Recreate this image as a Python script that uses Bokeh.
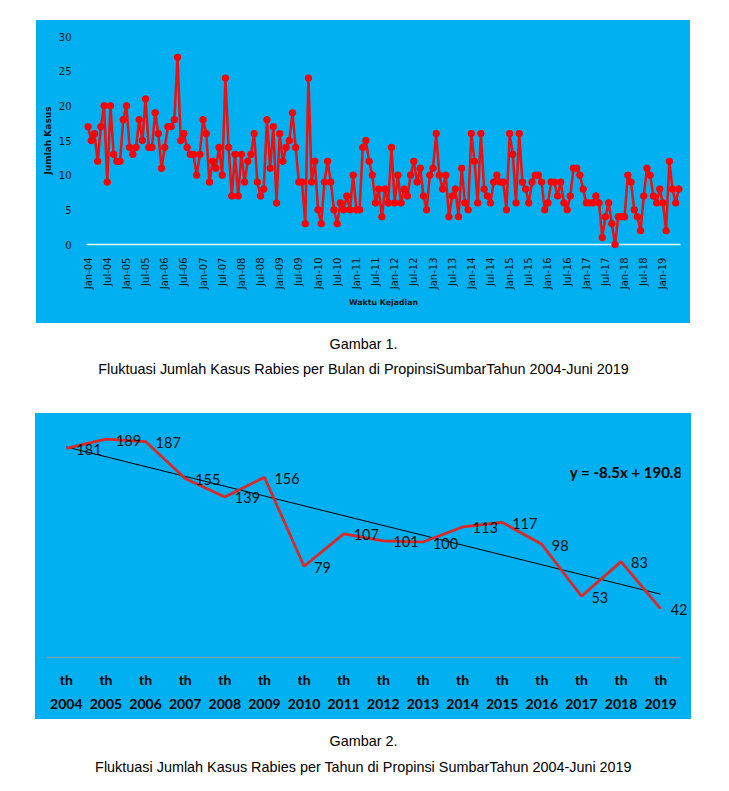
from bokeh.plotting import figure
from bokeh.models import Range1d, FixedTicker, LinearAxis, Label
from bokeh.layouts import column
from bokeh.embed import file_html
from bokeh.resources import INLINE
from bokeh.core.properties import value

# ---------------- data ----------------
monthly_cases = [
    17, 15, 16, 12, 17, 20, 9, 20, 13, 12, 12, 18,   # 2004
    20, 14, 13, 14, 18, 15, 21, 14, 14, 19, 16, 11,  # 2005
    14, 17, 17, 18, 27, 15, 16, 14, 13, 13, 10, 13,  # 2006
    18, 16, 9, 12, 11, 14, 10, 24, 14, 7, 13, 7,     # 2007
    13, 9, 12, 13, 16, 9, 7, 8, 18, 11, 17, 6,       # 2008
    16, 12, 14, 15, 19, 14, 9, 9, 3, 24, 9, 12,      # 2009
    5, 3, 9, 12, 9, 5, 3, 6, 5, 7, 5, 10,            # 2010
    5, 5, 14, 15, 12, 10, 6, 8, 4, 8, 6, 14,         # 2011
    6, 10, 6, 8, 7, 10, 12, 9, 11, 7, 5, 10,         # 2012
    11, 16, 10, 8, 10, 4, 7, 8, 4, 11, 6, 5,         # 2013
    16, 12, 6, 16, 8, 7, 6, 9, 10, 9, 9, 5,          # 2014
    16, 13, 6, 16, 9, 8, 6, 9, 10, 10, 9, 5,         # 2015
    6, 9, 9, 7, 9, 6, 5, 7, 11, 11, 10, 8,           # 2016
    6, 6, 6, 7, 6, 1, 4, 6, 3, 0, 4, 4,              # 2017
    4, 10, 9, 5, 4, 2, 7, 11, 10, 7, 6, 8,           # 2018
    6, 2, 12, 8, 6, 8,                               # 2019 (Jan-Jun)
]
month_tick_labels = [
    "Jan-04", "Jul-04", "Jan-05", "Jul-05", "Jan-06", "Jul-06", "Jan-07", "Jul-07",
    "Jan-08", "Jul-08", "Jan-09", "Jul-09", "Jan-10", "Jul-10", "Jan-11", "Jul-11",
    "Jan-12", "Jul-12", "Jan-13", "Jul-13", "Jan-14", "Jul-14", "Jan-15", "Jul-15",
    "Jan-16", "Jul-16", "Jan-17", "Jul-17", "Jan-18", "Jul-18", "Jan-19",
]
y_ticks_monthly = [0, 5, 10, 15, 20, 25, 30]

years = [2004, 2005, 2006, 2007, 2008, 2009, 2010, 2011,
         2012, 2013, 2014, 2015, 2016, 2017, 2018, 2019]
annual_cases = [181, 189, 187, 155, 139, 156, 79, 107,
                101, 100, 113, 117, 98, 53, 83, 42]
year_prefix = "th"
trend_slope = -8.5
trend_intercept = 190.8
trend_text = "y = -8.5x + 190.8"

caption1_a = "Gambar 1."
caption1_b = "Fluktuasi Jumlah Kasus Rabies per Bulan di PropinsiSumbarTahun 2004-Juni 2019"
caption2_a = "Gambar 2."
caption2_b = "Fluktuasi Jumlah Kasus Rabies per Tahun di Propinsi SumbarTahun 2004-Juni 2019"

BLUE = "#00b0f0"
TXT = "#101820"

# ---------------- chart 1: monthly ----------------
month_idx = list(range(len(monthly_cases)))
p1 = figure(width=654, height=303,
            x_range=Range1d(-0.5, len(monthly_cases) - 0.5),
            y_range=Range1d(0, 30),
            output_backend="svg", toolbar_location=None,
            min_border_left=50, min_border_right=10,
            min_border_top=16, min_border_bottom=79,
            background_fill_color=None, border_fill_color=None,
            styles={"background-color": BLUE},
            outline_line_color=None, margin=(20, 0, 0, 36), frame_align=False)
p1.xgrid.visible = False
p1.ygrid.visible = False

xa = p1.xaxis[0]
tick_pos = [6 * k for k in range(len(month_tick_labels))]
xa.ticker = FixedTicker(ticks=tick_pos)
xa.major_label_overrides = {t: lab for t, lab in zip(tick_pos, month_tick_labels)}
xa.major_label_orientation = 3.141592653589793 / 2
xa.axis_line_color = "#eaf7fd"
xa.axis_line_width = 1.3
xa.major_tick_line_color = None
xa.minor_tick_line_color = None
xa.major_label_standoff = 7
xa.major_label_text_font = "DejaVu Sans"
xa.major_label_text_font_size = "10px"
xa.major_label_text_color = TXT
xa.axis_label = "Waktu Kejadian"
xa.axis_label_text_font = "DejaVu Sans"
xa.axis_label_text_font_style = "bold"
xa.axis_label_text_font_size = "7.8px"
xa.axis_label_text_color = TXT
xa.axis_label_standoff = 6

ya = p1.yaxis[0]
ya.ticker = FixedTicker(ticks=y_ticks_monthly)
ya.axis_line_color = None
ya.major_tick_line_color = None
ya.minor_tick_line_color = None
ya.major_label_standoff = 9
ya.major_label_text_font = "DejaVu Sans"
ya.major_label_text_font_size = "10px"
ya.major_label_text_color = TXT
ya.axis_label = "Jumlah Kasus"
ya.axis_label_text_font = "DejaVu Sans"
ya.axis_label_text_font_style = "bold"
ya.axis_label_text_font_size = "9px"
ya.axis_label_text_color = TXT
ya.axis_label_standoff = 3

p1.line(month_idx, monthly_cases, line_color="#ee1010", line_width=2.5, level="overlay")
p1.scatter(month_idx, monthly_cases, size=6.5, fill_color="#ff0000",
           line_color="#ff0000", level="overlay")

# ---------------- captions ----------------
def caption(h, lines):
    c = figure(width=729, height=h, x_range=Range1d(0, 729), y_range=Range1d(h, 0),
               output_backend="svg", toolbar_location=None,
               x_axis_location=None, y_axis_location=None,
               min_border=0, outline_line_color=None, frame_align=False,
               background_fill_color="white", border_fill_color="white")
    c.xgrid.visible = False
    c.ygrid.visible = False
    for (txt, yy) in lines:
        c.text(x=[363], y=[yy], text=[txt], text_align="center", text_baseline="middle",
               text_font=value("Liberation Sans"), text_font_size="14.4px", text_color="#000000")
    return c

cap1 = caption(90, [(caption1_a, 20), (caption1_b, 45)])

# ---------------- chart 2: annual ----------------
p2 = figure(width=656, height=306,
            x_range=Range1d(years[0] - 0.5, years[-1] + 0.5),
            y_range=Range1d(0, 200),
            output_backend="svg", toolbar_location=None,
            min_border_left=11, min_border_right=11,
            min_border_top=13, min_border_bottom=62,
            background_fill_color=None, border_fill_color=None,
            styles={"background-color": BLUE},
            outline_line_color=None, margin=(0, 0, 0, 35),
            y_axis_location=None, frame_align=False)
p2.xgrid.visible = False
p2.ygrid.visible = False

xb = p2.xaxis[0]
xb.ticker = FixedTicker(ticks=years)
xb.major_label_overrides = {y: year_prefix for y in years}
xb.axis_line_color = "#72a0bd"
xb.axis_line_width = 1.5
xb.major_tick_line_color = None
xb.minor_tick_line_color = None
xb.major_label_standoff = 7
xb.major_label_text_font = "Lato"
xb.major_label_text_font_style = "bold"
xb.major_label_text_font_size = "14px"
xb.major_label_text_color = "#000000"

xb2 = LinearAxis(ticker=FixedTicker(ticks=years),
                 major_label_overrides={y: str(y) for y in years},
                 axis_line_color=None, major_tick_line_color=None,
                 minor_tick_line_color=None, major_label_standoff=2,
                 major_label_text_font="Lato", major_label_text_font_style="bold",
                 major_label_text_font_size="14px", major_label_text_color="#000000")
p2.add_layout(xb2, "below")

trend_x = [years[0], years[-1]]
trend_y = [trend_slope * (years.index(x) + 1) + trend_intercept for x in trend_x]
p2.line(trend_x, trend_y, line_color="#000000", line_width=1)
p2.line(years, annual_cases, line_color="#dd2626", line_width=2.75)
p2.text(x=years, y=annual_cases, text=[str(v) for v in annual_cases],
        x_offset=10, y_offset=1, text_align="left", text_baseline="middle",
        text_font=value("Lato"), text_font_size="14.5px", text_color="#111111",
        level="overlay")
p2.add_layout(Label(x=years[-1] + 0.5, y=161, x_offset=2, text=trend_text,
                    text_align="right", text_baseline="middle",
                    text_font="Lato", text_font_style="bold",
                    text_font_size="15px", text_color="#000000"))

cap2 = caption(72, [(caption2_a, 21), (caption2_b, 47)])

layout = column(p1, cap1, p2, cap2, spacing=0)
open("out.html", "w").write(file_html(layout, INLINE))
